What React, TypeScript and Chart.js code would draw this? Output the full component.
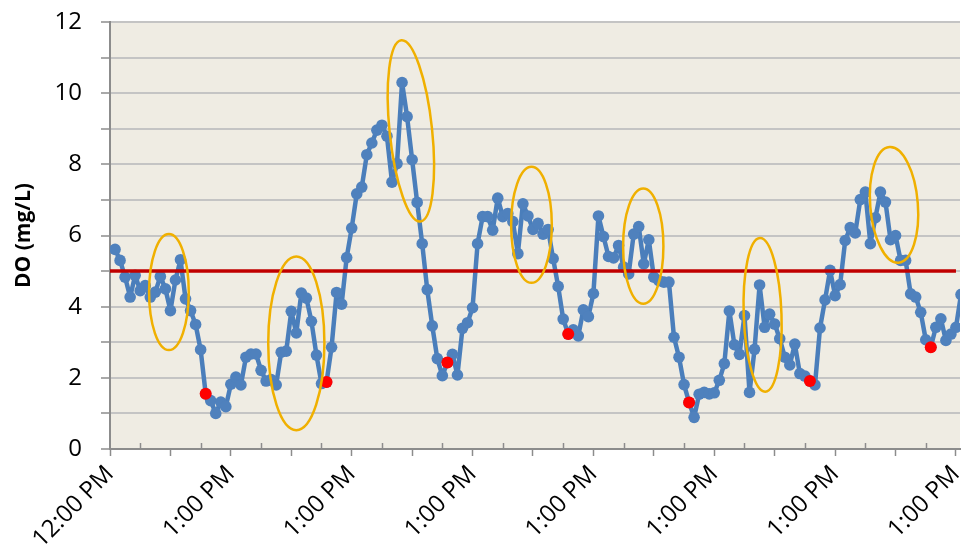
import React, { useEffect, useRef } from 'react';
import { Chart, registerables } from 'chart.js';

Chart.register(...registerables);

// Hourly dissolved-oxygen readings, hour 1 .. hour 169 after 12:00 PM
const doValues: number[] = [
  5.61, 5.30, 4.83, 4.27, 4.88, 4.45, 4.59, 4.27, 4.41, 4.85,
  4.50, 3.89, 4.75, 5.32, 4.22, 3.89, 3.50, 2.79, 1.55, 1.36,
  1.00, 1.32, 1.19, 1.82, 2.02, 1.80, 2.58, 2.67, 2.67, 2.21,
  1.91, 1.95, 1.80, 2.72, 2.75, 3.87, 3.26, 4.38, 4.24, 3.59,
  2.64, 1.84, 1.88, 2.86, 4.40, 4.07, 5.38, 6.21, 7.17, 7.36,
  8.27, 8.60, 8.96, 9.10, 8.79, 7.50, 8.02, 10.30, 9.34, 8.13,
  6.93, 5.77, 4.48, 3.46, 2.54, 2.06, 2.43, 2.66, 2.08, 3.39,
  3.55, 3.97, 5.77, 6.53, 6.53, 6.15, 7.05, 6.53, 6.62, 6.39,
  5.49, 6.89, 6.55, 6.17, 6.34, 6.04, 6.17, 5.35, 4.57, 3.65,
  3.23, 3.35, 3.18, 3.91, 3.72, 4.37, 6.55, 5.97, 5.41, 5.37,
  5.72, 5.11, 4.92, 6.04, 6.25, 5.20, 5.88, 4.83, 4.73, 4.69,
  4.69, 3.14, 2.58, 1.81, 1.31, 0.89, 1.54, 1.59, 1.55, 1.58,
  1.93, 2.40, 3.88, 2.93, 2.66, 3.75, 1.59, 2.80, 4.61, 3.42,
  3.79, 3.51, 3.10, 2.58, 2.36, 2.95, 2.12, 2.05, 1.91, 1.80,
  3.40, 4.19, 5.02, 4.31, 4.62, 5.86, 6.22, 6.07, 7.01, 7.22,
  5.77, 6.50, 7.22, 6.94, 5.88, 6.00, 5.30, 5.30, 4.36, 4.27,
  3.84, 3.07, 2.86, 3.42, 3.66, 3.05, 3.23, 3.42, 4.34,
];

// Hours highlighted with red markers (daily low)
const lowMarkHours: number[] = [19, 43, 67, 91, 115, 139, 163];

// Threshold line
const thresholdValue = 5;
const thresholdSpan: number[] = [0, 168];

// X axis labels (one per 24 h)
const xTickLabels: string[] = ['12:00 PM', '1:00 PM', '1:00 PM', '1:00 PM', '1:00 PM', '1:00 PM', '1:00 PM', '1:00 PM'];
const xMax = 168.8;

// Y axis
const yMin = 0;
const yMax = 12;

// Highlight ellipses: center hour, center value, half-width (h), half-height (mg/L), rotation deg
const ellipseHours: number[] = [11.7, 37.0, 59.75, 83.7, 105.9, 129.6, 155.7];
const ellipseValues: number[] = [4.41, 2.97, 8.94, 6.30, 5.70, 3.77, 6.86];
const ellipseHalfW: number[] = [3.94, 5.58, 4.22, 4.04, 4.0, 3.75, 4.73];
const ellipseHalfH: number[] = [1.63, 2.44, 2.56, 1.63, 1.62, 2.16, 1.63];
const ellipseRot: number[] = [0, 0, -6, 0, 0, -2, -4.5];

const FONT = "'Open Sans', sans-serif";

const plotBgPlugin = {
  id: 'plotBg',
  beforeDraw(chart: any) {
    const { ctx, chartArea } = chart;
    ctx.save();
    ctx.fillStyle = '#EFECE3';
    ctx.fillRect(chartArea.left, chartArea.top, chartArea.right - chartArea.left, chartArea.bottom - chartArea.top);
    ctx.restore();
  },
};

const minorTickPlugin = {
  id: 'minorTicks',
  afterDraw(chart: any) {
    const { ctx, chartArea } = chart;
    const xs = chart.scales.x;
    ctx.save();
    ctx.strokeStyle = '#8C8C8C';
    ctx.lineWidth = 1.5;
    for (let h = 6; h < xMax; h += 12) {
      const px = Math.round(xs.getPixelForValue(h)) + 0.5;
      ctx.beginPath();
      ctx.moveTo(px, chartArea.bottom);
      ctx.lineTo(px, chartArea.bottom - 6);
      ctx.stroke();
    }
    ctx.restore();
  },
};

const ellipsePlugin = {
  id: 'ellipses',
  afterDatasetsDraw(chart: any) {
    const { ctx } = chart;
    const xs = chart.scales.x;
    const ys = chart.scales.y;
    ctx.save();
    ctx.strokeStyle = '#F0B000';
    ctx.lineWidth = 2.5;
    for (let i = 0; i < ellipseHours.length; i++) {
      const cx = xs.getPixelForValue(ellipseHours[i]);
      const cy = ys.getPixelForValue(ellipseValues[i]);
      const rx = Math.abs(xs.getPixelForValue(ellipseHours[i] + ellipseHalfW[i]) - cx);
      const ry = Math.abs(ys.getPixelForValue(ellipseValues[i] + ellipseHalfH[i]) - cy);
      ctx.beginPath();
      ctx.ellipse(cx, cy, rx, ry, (ellipseRot[i] * Math.PI) / 180, 0, Math.PI * 2);
      ctx.stroke();
    }
    ctx.restore();
  },
};

export default function App() {
  const canvasRef = useRef<HTMLCanvasElement | null>(null);

  useEffect(() => {
    if (!canvasRef.current) return;
    const series = doValues.map((v, i) => ({ x: i + 1, y: v }));
    const lows = lowMarkHours.map((h) => ({ x: h, y: doValues[h - 1] }));
    const threshold = thresholdSpan.map((h) => ({ x: h, y: thresholdValue }));

    const chart = new Chart(canvasRef.current, {
      type: 'line',
      data: {
        datasets: [
          {
            label: 'Daily low',
            data: lows,
            showLine: false,
            pointRadius: 6,
            pointBackgroundColor: '#FF0000',
            pointBorderColor: '#FF0000',
            pointBorderWidth: 0,
          },
          {
            label: 'Threshold',
            data: threshold,
            borderColor: '#C00000',
            borderWidth: 3.5,
            pointRadius: 0,
          },
          {
            label: 'DO',
            data: series,
            borderColor: '#4A7EBB',
            borderWidth: 4.5,
            borderJoinStyle: 'round',
            borderCapStyle: 'round',
            pointRadius: 5.8,
            pointBackgroundColor: '#4F81BD',
            pointBorderColor: '#4F81BD',
            pointBorderWidth: 0,
            tension: 0,
          },
        ],
      },
      options: {
        animation: false,
        responsive: false,
        devicePixelRatio: 1,
        layout: { padding: { top: 22, left: 0, right: 0, bottom: 0 } },
        plugins: {
          legend: { display: false },
          tooltip: { enabled: false },
        },
        scales: {
          x: {
            type: 'linear',
            min: 0,
            max: xMax,
            afterBuildTicks(scale: any) {
              const t = [];
              for (let h = 0; h <= 168; h += 12) t.push({ value: h });
              scale.ticks = t;
            },
            afterFit(scale: any) {
              scale.height = 97;
              scale.paddingLeft = 0;
              scale.paddingRight = 0;
            },
            ticks: {
              autoSkip: false,
              minRotation: 45,
              maxRotation: 45,
              padding: 4,
              color: '#000',
              font: { family: FONT, size: 24 },
              callback(value: any) {
                const v = Number(value);
                if (v % 24 === 0) return xTickLabels[v / 24] ?? '';
                return '';
              },
            },
            grid: {
              drawOnChartArea: false,
              drawTicks: true,
              tickLength: 7,
              tickColor: '#8C8C8C',
              tickWidth: 1.5,
            },
            border: { color: '#8C8C8C', width: 2 },
          },
          y: {
            min: yMin,
            max: yMax,
            afterFit(scale: any) {
              scale.width = 110;
              scale.paddingTop = 0;
              scale.paddingBottom = 0;
            },
            ticks: {
              stepSize: 1,
              padding: 19,
              color: '#000',
              font: { family: FONT, size: 24 },
              callback(value: any) {
                const v = Number(value);
                return v % 2 === 0 ? String(v) : '';
              },
            },
            grid: {
              color: '#C4C4C4',
              lineWidth: 2,
              drawTicks: true,
              tickLength: 9,
              tickColor: '#8C8C8C',
              tickWidth: 1.5,
            },
            border: { color: '#8C8C8C', width: 2 },
            title: {
              display: true,
              text: 'DO (mg/L)',
              color: '#000',
              font: { family: FONT, size: 21, weight: 'bold' },
              padding: { top: 11, bottom: 0 },
            },
          },
        },
      },
      plugins: [plotBgPlugin, minorTickPlugin, ellipsePlugin],
    });
    return () => chart.destroy();
  }, []);

  return (
    <div style={{ position: 'fixed', left: 0, top: 0, width: 966, height: 546, background: '#fff' }}>
      <canvas ref={canvasRef} width={966} height={546} style={{ width: 966, height: 546, display: 'block' }} />
    </div>
  );
}
